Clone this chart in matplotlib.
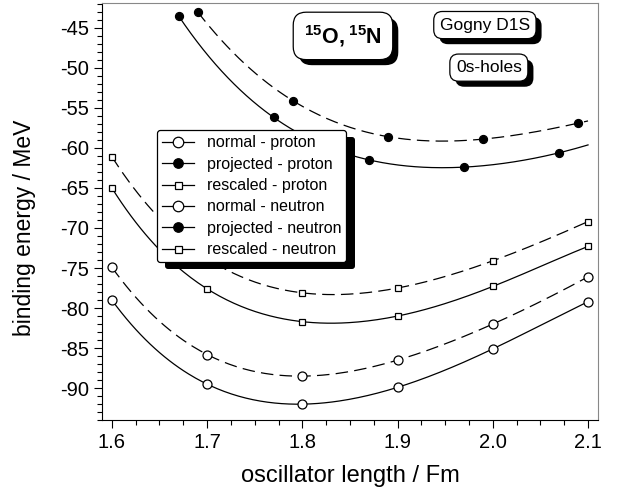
import numpy as np
import matplotlib
matplotlib.use("Agg")
import matplotlib.pyplot as plt
import matplotlib.patheffects as pe
from matplotlib.lines import Line2D
from matplotlib.ticker import MultipleLocator

plt.rcParams["font.family"] = ["Liberation Sans", "DejaVu Sans"]
plt.rcParams["axes.unicode_minus"] = False
plt.rcParams["mathtext.fontset"] = "custom"
plt.rcParams["mathtext.rm"] = "Liberation Sans"
plt.rcParams["mathtext.bf"] = "Liberation Sans:bold"

# oscillator length grid (Fm)
x_grid = [1.6, 1.7, 1.8, 1.9, 2.0, 2.1]

normal_proton = [-79.0, -89.5, -92.0, -89.9, -85.1, -79.2]
normal_neutron = [-74.9, -85.8, -88.5, -86.5, -82.0, -76.1]
rescaled_proton = [-65.0, -77.6, -81.7, -81.0, -77.3, -72.3]
rescaled_neutron = [-61.1, -73.8, -78.1, -77.5, -74.1, -69.2]

proj_proton_x = [1.67, 1.77, 1.87, 1.97, 2.07]
proj_proton = [-43.5, -56.2, -61.5, -62.4, -60.6]
proj_neutron_x = [1.69, 1.79, 1.89, 1.99, 2.09]
proj_neutron = [-43.0, -54.1, -58.6, -58.9, -56.9]

series = [
    ("normal - proton", x_grid, normal_proton, "-", "o", "none", 9),
    ("projected - proton", proj_proton_x, proj_proton, "-", "o", "k", 8),
    ("rescaled - proton", x_grid, rescaled_proton, "-", "s", "none", 5.5),
    ("normal - neutron", x_grid, normal_neutron, (0, (10, 5)), "o", "none", 9),
    ("projected - neutron", proj_neutron_x, proj_neutron, (0, (10, 5)), "o", "k", 8),
    ("rescaled - neutron", x_grid, rescaled_neutron, (0, (10, 5)), "s", "none", 5.5),
]

fig = plt.figure(figsize=(6.21, 4.92), dpi=100)
ax = fig.add_axes([0.164, 0.146, 0.799, 0.848])

handles = []
for label, xs, ys, ls, mk, fc, ms in series:
    xs = np.asarray(xs)
    ys = np.asarray(ys)
    # smooth curve through the points, carried on to 2.1
    coef = np.polyfit(xs, ys, len(xs) - 1)
    xx = np.linspace(xs[0], 2.1, 200)
    ax.plot(xx, np.polyval(coef, xx), color="k", lw=0.9, ls=ls, zorder=2)
    face = "white" if fc == "none" else fc
    ax.plot(xs, ys, ls="none", marker=mk, ms=ms * 0.72, mfc=face,
            mec="k", mew=0.9, zorder=3)
    handles.append(Line2D([], [], color="k", lw=0.9, ls="-", marker=mk,
                          ms=(ms + 1.5) * 0.72, mfc=face, mec="k", mew=0.9,
                          label=label))

ax.set_xlim(1.5895, 2.1105)
ax.set_ylim(-94.0, -41.9)
ax.xaxis.set_major_locator(MultipleLocator(0.1))
ax.xaxis.set_minor_locator(MultipleLocator(0.025))
ax.yaxis.set_major_locator(MultipleLocator(5))
ax.yaxis.set_minor_locator(MultipleLocator(1))
ax.set_xticks([1.6, 1.7, 1.8, 1.9, 2.0, 2.1])
ax.set_xticklabels(["1.6", "1.7", "1.8", "1.9", "2.0", "2.1"])
ax.tick_params(which="both", direction="out", top=False, right=False, labelsize=14.5)
ax.tick_params(which="major", length=6, width=0.8)
ax.tick_params(which="minor", length=3.5, width=0.8)
for side in ("top", "right"):
    ax.spines[side].set_color("#888888")
ax.set_xlabel("oscillator length / Fm", fontsize=17)
ax.set_ylabel("binding energy / MeV", fontsize=16.5)
ax.xaxis.set_label_coords(0.5, -0.108)
ax.yaxis.set_label_coords(-0.132, 0.46)

leg_shadow = [pe.SimplePatchShadow(offset=(6, -5), shadow_rgbFace="k", alpha=1.0), pe.Normal()]
box_shadow = [pe.SimplePatchShadow(offset=(4, -4), shadow_rgbFace="k", alpha=1.0), pe.Normal()]

leg = ax.legend(handles=handles, loc="upper left", bbox_to_anchor=(0.111, 0.695),
                borderaxespad=0, fontsize=11.5, frameon=True, fancybox=True,
                framealpha=1, edgecolor="k", handlelength=2.0, handletextpad=0.8,
                labelspacing=0.4, borderpad=0.32)
leg.get_frame().set_linewidth(0.9)
leg.get_frame().set_path_effects(leg_shadow)
leg.set_zorder(5)

box = dict(boxstyle="round,pad=0.35,rounding_size=0.5", fc="white", ec="k", lw=0.9)
box_big = dict(boxstyle="round,pad=0.5,rounding_size=0.6", fc="white", ec="k", lw=0.9)
t1 = ax.text(0.486, 0.921, r"$\mathbf{^{15}O,^{15}N}$", transform=ax.transAxes,
             fontsize=15.5, ha="center", va="center", bbox=box_big, zorder=6)
t2 = ax.text(0.772, 0.947, "Gogny D1S", transform=ax.transAxes, fontsize=12.5,
             ha="center", va="center", bbox=box, zorder=6)
t3 = ax.text(0.780, 0.845, "0s-holes", transform=ax.transAxes, fontsize=12.5,
             ha="center", va="center", bbox=box, zorder=6)
for t in (t1, t2, t3):
    t.get_bbox_patch().set_path_effects(box_shadow)

fig.savefig("out.png", dpi=100)
